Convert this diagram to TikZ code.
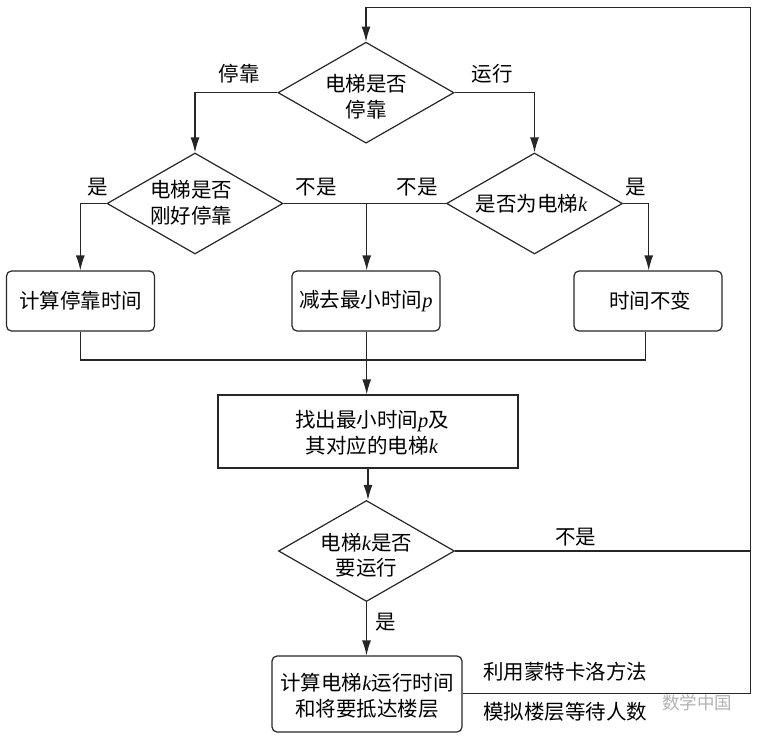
\documentclass[tikz,border=0pt]{standalone}
\usepackage{fontspec}
\setmainfont{Noto Sans CJK SC}
\newfontfamily\latinit{Liberation Serif}
\usetikzlibrary{shapes.geometric,arrows.meta}
\newcommand{\itk}{{\latinit\itshape k}}
\newcommand{\itp}{{\latinit\itshape p}}
% text block placed dx right and dy down of the node centre, without affecting its size
\newcommand{\mtext}[3]{\makebox[0pt]{\hspace*{#1}\smash{\raisebox{#2}{\begin{tabular}{@{}c@{}}#3\end{tabular}}}}}
\tikzset{
  line/.style={draw=black!85,line width=1.2pt},
  arr/.style={line,-{Latex[length=15pt,width=9pt]}},
  decision/.style={diamond,line,inner sep=0pt,minimum width=176pt,minimum height=101pt,font=\fontsize{20.5}{25.5}\selectfont},
  rbox/.style={line,rounded corners=5pt,inner sep=0pt,minimum width=148pt,minimum height=60pt,font=\fontsize{20.5}{26}\selectfont},
  pbox/.style={line,inner sep=0pt,font=\fontsize{20.5}{26}\selectfont},
  lbl/.style={inner sep=0pt,font=\fontsize{20.5}{25}\selectfont},
  wm/.style={inner sep=0pt,text=black!30,font=\fontsize{17.5}{20}\selectfont}
}
\begin{document}
\begin{tikzpicture}[x=1pt,y=-1pt]
\useasboundingbox (0,0) rectangle (757,736);
\node[decision] (d1) at (366,92.7) {\mtext{0pt}{-12pt}{电梯是否\\停靠}};
\node[decision] (d2) at (195,203.5) {\mtext{-8pt}{-7pt}{电梯是否\\刚好停靠}};
\node[decision] (d3) at (534.5,203.5) {\mtext{-6pt}{-8pt}{是否为电梯\itk}};
\node[decision] (d4) at (366.5,551) {\mtext{0pt}{-12pt}{电梯\itk 是否\\要运行}};
\node[rbox] (b1) at (80.5,301) {计算停靠时间};
\node[rbox] (b2) at (366,301) {减去最小时间\itp};
\node[rbox] (b3) at (648,301) {\mtext{4pt}{-7pt}{时间不变}};
\node[pbox,minimum width=300pt,minimum height=73pt] (b4) at (368,431.5) {\mtext{8pt}{-9pt}{找出最小时间\itp 及\\其对应的电梯\itk}};
\node[rbox,minimum width=190pt,minimum height=76pt] (b5) at (367,694) {\mtext{0pt}{-9pt}{计算电梯\itk 运行时间\\和将要抵达楼层}};
\coordinate (top) at (750.5,7.3);
\coordinate (topl) at (d1.north |- top);
\coordinate (rj) at (top |- d4.east);
\coordinate (rb) at (750.5,693.7);
\coordinate (mj) at (366.7,360);
\coordinate (dj) at (366.7,203.5);
\coordinate (lt) at (d2.north |- d1.west);
\coordinate (rt) at (d3.north |- d1.east);
\coordinate (lm) at (80.3,203.5);
\coordinate (rm) at (648.7,203.5);
\coordinate (lb) at (80.3,360);
\coordinate (rc) at (645.7,360);
\draw[arr] (rb) -- (top) -- (topl) -- (d1.north);
\draw[line] (b5.east |- rb) -- (rb);
\draw[line] (d4.east) -- (rj);
\draw[arr] (d1.west) -- (lt) -- (d2.north);
\draw[arr] (d1.east) -- (rt) -- (d3.north);
\draw[arr] (d2.west) -- (lm) -- (lm |- b1.north);
\draw[arr] (d3.east) -- (rm) -- (rm |- b3.north);
\draw[line] (d2.east) -- (d3.west);
\draw[arr] (dj) -- (dj |- b2.north);
\draw[line] (lb |- b1.south) -- (lb) -- (rc) -- (rc |- b3.south);
\draw[arr] (mj |- b2.south) -- (mj |- b4.north);
\draw[arr] (b4.south) -- (b4.south |- d4.north);
\draw[arr] (d4.south) -- (d4.south |- b5.north);
\node[lbl] (l1) at (239,74) {停靠};
\node[lbl] (l2) at (492,74) {运行};
\node[lbl] (l3) at (98,187) {是};
\node[lbl] (l4) at (316,187) {不是};
\node[lbl] (l5) at (417,187) {不是};
\node[lbl] (l6) at (636,187) {是};
\node[lbl] (l7) at (575.5,537) {不是};
\node[lbl] (l8) at (386,622) {是};
\node[lbl] (l9) at (565,672) {利用蒙特卡洛方法};
\node[lbl] (l10) at (565,712) {模拟楼层等待人数};
\node[wm] (w1) at (697,703) {数学中国};
\end{tikzpicture}
\end{document}
